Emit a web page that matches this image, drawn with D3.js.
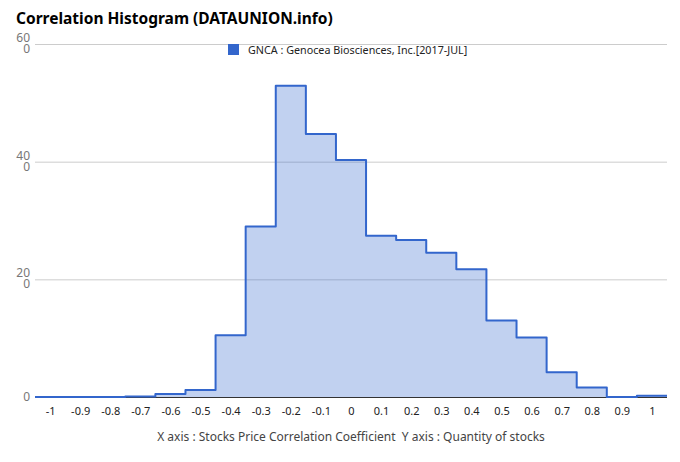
<!doctype html>
<html lang="en">
<head>
<meta charset="utf-8">
<script src="https://cdn.jsdelivr.net/npm/d3@7"></script>
<style>
	body{ margin:0; padding:0; background:#fff; }
	svg{ display:block; font-family:"Noto Sans", sans-serif; }
</style>
</head>
<body>
<svg id="chart"></svg>
<script>
// histogram bins (centre of each bin) and counts
var bins = [-1, -0.9, -0.8, -0.7, -0.6, -0.5, -0.4, -0.3, -0.2, -0.1, 0,
	0.1, 0.2, 0.3, 0.4, 0.5, 0.6, 0.7, 0.8, 0.9, 1];
var counts = [0, 0, 0, 1, 5, 12, 105, 290, 529, 447, 403,
	274, 267, 245, 217, 130, 101, 42, 16, 0, 2];
var xTicks = [-1, -0.9, -0.8, -0.7, -0.6, -0.5, -0.4, -0.3, -0.2, -0.1, 0,
	0.1, 0.2, 0.3, 0.4, 0.5, 0.6, 0.7, 0.8, 0.9, 1];
var yTicks = [0, 200, 400, 600];
var seriesName = "GNCA : Genocea Biosciences, Inc.[2017-JUL]";
var title = "Correlation Histogram (DATAUNION.info)";
var caption = "X axis : Stocks Price Correlation Coefficient  Y axis : Quantity of stocks";

var width = 680, height = 462;
var pLeft = 35, pRight = 667, pTop = 44, pBottom = 397;
var binW = 0.1;
var blue = "#3366cc";

var svg = d3.select("#chart").attr("width", width).attr("height", height);

var x = d3.scaleLinear().domain([-1.05, 1.05]).range([pLeft, pRight]);
var y = d3.scaleLinear().domain([0, 600]).range([pBottom, pTop]);

//title
svg.append("text")
	.attr("x", 16).attr("y", 24)
	.attr("font-size", 15.5).attr("font-weight", "bold")
	.attr("fill", "#000")
	.text(title);

//grid lines + y labels (labels wrap like the original: "60" / "0")
var yg = svg.append("g");
yTicks.forEach(function(t){
	if(t > 0){
		yg.append("line")
			.attr("x1", pLeft).attr("x2", pRight)
			.attr("y1", y(t) + 0.5).attr("y2", y(t) + 0.5)
			.attr("stroke", "#cccccc");
	}
	var s = String(t);
	var lab = yg.append("text")
		.attr("x", 30)
		.attr("text-anchor", "end")
		.attr("font-size", 12)
		.attr("fill", "#777");
	if(s.length > 1){
		lab.append("tspan").attr("x", 30).attr("y", y(t) - 2).text(s.slice(0, -1));
		lab.append("tspan").attr("x", 30).attr("y", y(t) + 9).text(s.slice(-1));
	} else {
		lab.attr("y", y(t) + 4).text(s);
	}
});

//step outline built from bin edges
var pts = [];
for(var i=0;i<bins.length;i++){
	pts.push([bins[i] - binW/2, counts[i]]);
}
pts.push([bins[bins.length-1] + binW/2, counts[counts.length-1]]);

var area = d3.area()
	.curve(d3.curveStepAfter)
	.x(function(d){ return x(d[0]); })
	.y0(y(0))
	.y1(function(d){ return y(d[1]); });
var line = d3.line()
	.curve(d3.curveStepAfter)
	.x(function(d){ return x(d[0]); })
	.y(function(d){ return y(d[1]); });

svg.append("path")
	.attr("d", area(pts))
	.attr("fill", blue)
	.attr("fill-opacity", 0.3);

//x axis baseline
svg.append("line")
	.attr("x1", pLeft).attr("x2", pRight)
	.attr("y1", pBottom + 0.5).attr("y2", pBottom + 0.5)
	.attr("stroke", "#333");

svg.append("path")
	.attr("d", line(pts))
	.attr("fill", "none")
	.attr("stroke", blue)
	.attr("stroke-width", 2)
	.attr("stroke-linejoin", "round");

//x labels
var xAxis = d3.axisBottom(x)
	.tickValues(xTicks)
	.tickSize(0)
	.tickPadding(10)
	.tickFormat(function(d){ return String(d); });
var xg = svg.append("g")
	.attr("transform", "translate(0," + pBottom + ")")
	.call(xAxis);
xg.select(".domain").remove();
xg.selectAll("text")
	.attr("font-family", "Noto Sans, sans-serif")
	.attr("font-size", 11)
	.attr("fill", "#222");

//legend
svg.append("rect")
	.attr("x", 228).attr("y", 44)
	.attr("width", 11).attr("height", 11)
	.attr("fill", blue);
svg.append("text")
	.attr("x", 248).attr("y", 54)
	.attr("font-size", 10.75)
	.attr("fill", "#222")
	.text(seriesName);

//caption
svg.append("text")
	.attr("x", 351).attr("y", 441)
	.attr("text-anchor", "middle")
	.attr("font-size", 12)
	.attr("fill", "#444")
	.style("white-space", "pre")
	.text(caption);
</script>
</body>
</html>
